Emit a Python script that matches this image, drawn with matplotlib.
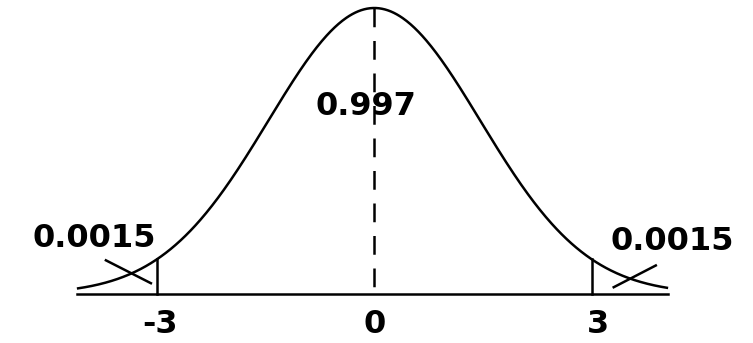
import numpy as np
import matplotlib.pyplot as plt

# normal curve, tick unit = one standard deviation of the shaded cut-offs
tick_vals = [-3, 0, 3]
tick_labels = ["-3", "0", "3"]
center_area = "0.997"
tail_area = "0.0015"
x_lo, x_hi = -4.1, 4.05
spread = 1.46

x = np.linspace(x_lo, x_hi, 600)
y = np.exp(-x**2 / (2 * spread**2))

fig = plt.figure(figsize=(7.53, 3.43), dpi=100)
ax = fig.add_axes([0, 0, 1, 1])
ax.set_xlim(-5.16, 5.22)
ax.set_ylim(-0.171, 1.028)
ax.axis("off")

lw = 1.8
ax.plot(x, y, color="black", lw=lw, solid_capstyle="butt")
ax.plot([x_lo, x_hi], [0, 0], color="black", lw=lw)

# cut-off lines at -3 and 3
for t in (tick_vals[0], tick_vals[2]):
    h = np.exp(-t**2 / (2 * spread**2))
    ax.plot([t, t], [0, h], color="black", lw=lw)

# dashed centre line, drawn from the peak down
ax.plot([0, 0], [1, 0], color="black", lw=lw, dashes=(7.5, 5.5))

font = dict(family="DejaVu Sans", weight="bold", size=23, color="black")

ax.text(-0.12, 0.655, center_area, ha="center", va="center", **font)
ax.text(-3.86, 0.195, tail_area, ha="center", va="center", **font)
ax.text(4.1, 0.185, tail_area, ha="center", va="center", **font)

# leader strokes crossing the tails
ax.plot([-3.7, -3.08], [0.118, 0.038], color="black", lw=lw)
ax.plot([3.3, 3.88], [0.024, 0.1], color="black", lw=lw)

offsets = {"-3": 0.05, "0": 0.0, "3": 0.08}
for v, lab in zip(tick_vals, tick_labels):
    ax.text(v + offsets[lab], -0.137, lab, ha="center", va="baseline", **font)

fig.savefig("out.png", dpi=100, facecolor="white")
